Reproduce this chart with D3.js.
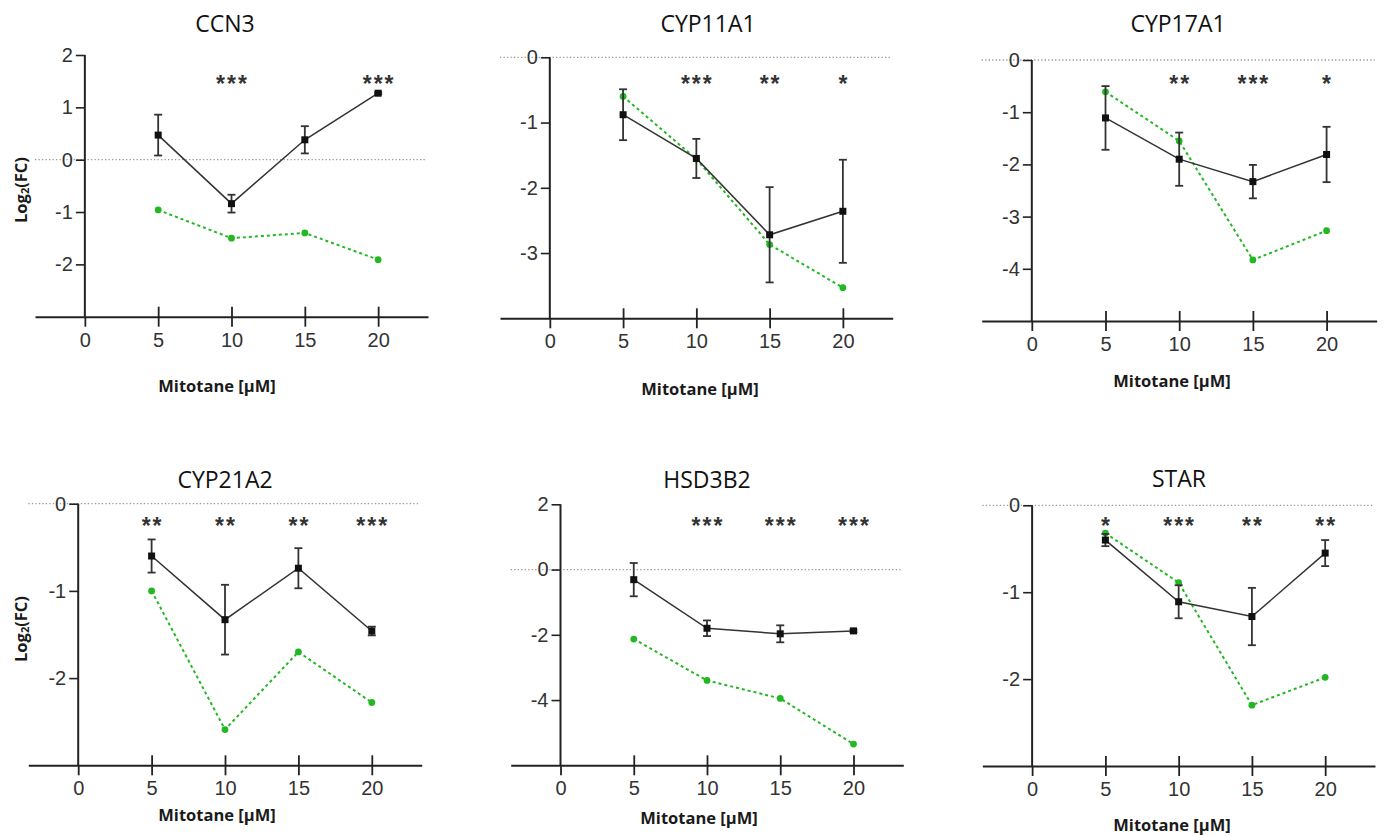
<!DOCTYPE html>
<html lang="en">
<head>
  <meta charset="UTF-8" />
  <title>Mitotane gene expression</title>
  <style>
    body { margin:0; background:#fff; }
    svg { display:block; }
    .tick text { font-family:"Liberation Sans", Arial, sans-serif; font-size:20px; fill:#333; }
    .title { font-family:"Open Sans", sans-serif; font-size:23px; fill:#111; }
    .axlab { font-family:"Open Sans", sans-serif; font-size:16.5px; font-weight:700; fill:#1a1a1a; }
    .stars { font-family:"Liberation Sans", Arial, sans-serif; font-size:23px; font-weight:700; fill:#333; letter-spacing:2px; }
  </style>
</head>
<body>
<svg id="chart" width="1385" height="836"></svg>
<script src="https://cdnjs.cloudflare.com/ajax/libs/d3/7.8.5/d3.min.js"></script>
<script>
// --- data ---
const genes = ["CCN3", "CYP11A1", "CYP17A1", "CYP21A2", "HSD3B2", "STAR"];
const doses = [5, 10, 15, 20];
const xTicks = [0, 5, 10, 15, 20];
const yDomains = [[-3, 2], [-4, 0], [-5, 0], [-3, 0], [-6, 2], [-3, 0]];
const yTicks = [[-2, -1, 0, 1, 2], [-3, -2, -1, 0], [-4, -3, -2, -1, 0], [-2, -1, 0], [-4, -2, 0, 2], [-2, -1, 0]];
// black squares: mean log2(FC) and error
const meanFC = [
  [0.47, -0.84, 0.38, 1.27],
  [-0.88, -1.55, -2.72, -2.36],
  [-1.11, -1.90, -2.33, -1.81],
  [-0.60, -1.33, -0.74, -1.46],
  [-0.31, -1.80, -1.97, -1.88],
  [-0.40, -1.11, -1.28, -0.55]
];
const errFC = [
  [0.39, 0.17, 0.26, 0.02],
  [0.39, 0.30, 0.73, 0.79],
  [0.61, 0.51, 0.32, 0.53],
  [0.19, 0.40, 0.23, 0.05],
  [0.51, 0.24, 0.26, 0.04],
  [0.07, 0.19, 0.33, 0.15]
];
// green dotted series
const greenFC = [
  [-0.96, -1.50, -1.40, -1.91],
  [-0.60, -1.56, -2.87, -3.53],
  [-0.61, -1.55, -3.83, -3.27],
  [-1.00, -2.59, -1.70, -2.28],
  [-2.13, -3.40, -3.95, -5.35],
  [-0.32, -0.89, -2.30, -1.98]
];
const stars = [
  ["", "***", "", "***"],
  ["", "***", "**", "*"],
  ["", "**", "***", "*"],
  ["**", "**", "**", "***"],
  ["", "***", "***", "***"],
  ["*", "***", "**", "**"]
];

// --- panel layout (pixels) ---
const panels = [
  {x0:35,    x1:428,    top:55,    bot:316.7, titleX:225,  titleY:23,  starY:79,  xlabX:217,  xlabY:385, ylab:true},
  {x0:500,   x1:892.7,  top:57.3,  bot:318.3, titleX:708,  titleY:23,  starY:79,  xlabX:700,  xlabY:388, ylab:false},
  {x0:981.7, x1:1376.7, top:60,    bot:321,   titleX:1178, titleY:23,  starY:79,  xlabX:1172, xlabY:380, ylab:false},
  {x0:28.3,  x1:421.7,  top:503.7, bot:765.3, titleX:225,  titleY:479, starY:521, xlabX:217,  xlabY:814, ylab:true},
  {x0:510.7, x1:903.3,  top:504.3, bot:765.3, titleX:707,  titleY:479, starY:521, xlabX:699,  xlabY:817, ylab:false},
  {x0:982.3, x1:1375,   top:505.3, bot:766,   titleX:1179, titleY:478, starY:521, xlabX:1172, xlabY:824, ylab:false}
];

const svg = d3.select("#chart");
const green = "#22b822", dark = "#333";

genes.forEach((gene, gi) => {
  const p = panels[gi];
  const x = d3.scaleLinear().domain([-3.4, 23.4]).range([p.x0, p.x1]);
  const y = d3.scaleLinear().domain(yDomains[gi]).range([p.bot, p.top]);
  const g = svg.append("g");

  // zero reference line
  g.append("line")
    .attr("x1", p.x0).attr("x2", p.x1 - 2)
    .attr("y1", y(0)).attr("y2", y(0))
    .attr("stroke", "#999").attr("stroke-width", 1.3)
    .attr("stroke-dasharray", "1.3,2.2");

  // y axis
  const gy = g.append("g").attr("transform", `translate(${x(0)},0)`)
    .call(d3.axisLeft(y).tickValues(yTicks[gi]).tickFormat(d3.format("d"))
      .tickSize(9).tickPadding(3).tickSizeOuter(0));
  gy.select(".domain").attr("stroke", "#222").attr("stroke-width", 2)
    .attr("d", `M0,${y(yDomains[gi][1])}V${p.bot}`);
  gy.selectAll(".tick line").attr("stroke", "#222").attr("stroke-width", 1.6);
  gy.selectAll(".tick text").text(d => d < 0 ? "-" + Math.abs(d) : d);

  // x axis
  const gx = g.append("g").attr("transform", `translate(0,${p.bot})`)
    .call(d3.axisBottom(x).tickValues(xTicks).tickSize(10).tickSizeOuter(0));
  gx.select(".domain").attr("stroke", "#222").attr("stroke-width", 2);
  gx.selectAll(".tick line").attr("stroke", "#222").attr("stroke-width", 1.8)
    .attr("y1", d => d === 0 ? 0 : -10);
  gx.selectAll(".tick text").attr("y", 16);

  // title
  g.append("text").attr("class", "title")
    .attr("x", p.titleX).attr("y", p.titleY)
    .attr("text-anchor", "middle").attr("dominant-baseline", "central")
    .text(gene);

  // axis labels
  g.append("text").attr("class", "axlab")
    .attr("x", p.xlabX).attr("y", p.xlabY)
    .attr("text-anchor", "middle").attr("dominant-baseline", "central")
    .text("Mitotane [µM]");
  if (p.ylab) {
    const cy = gi === 0 ? 190 : 629;
    const t = g.append("text").attr("class", "axlab")
      .attr("transform", `translate(20,${cy}) rotate(-90)`)
      .attr("text-anchor", "middle").attr("dominant-baseline", "central");
    t.append("tspan").text("Log");
    t.append("tspan").attr("font-size", "11px").attr("dy", 4).text("2");
    t.append("tspan").attr("dy", -4).text("(FC)");
  }

  // green dotted series
  const gpts = doses.map((d, i) => [d, greenFC[gi][i]]);
  g.append("path")
    .attr("d", d3.line().x(d => x(d[0])).y(d => y(d[1]))(gpts))
    .attr("fill", "none").attr("stroke", green).attr("stroke-width", 2)
    .attr("stroke-dasharray", "3,3");
  g.selectAll(".gdot").data(gpts).join("circle")
    .attr("cx", d => x(d[0])).attr("cy", d => y(d[1]))
    .attr("r", 3.4).attr("fill", green);

  // black mean series with error bars
  const bpts = doses.map((d, i) => ({dose:d, m:meanFC[gi][i], e:errFC[gi][i]}));
  g.append("path")
    .attr("d", d3.line().x(d => x(d.dose)).y(d => y(d.m))(bpts))
    .attr("fill", "none").attr("stroke", dark).attr("stroke-width", 1.5);
  const eb = g.selectAll(".eb").data(bpts).join("g");
  eb.append("line")
    .attr("x1", d => x(d.dose)).attr("x2", d => x(d.dose))
    .attr("y1", d => y(d.m + d.e)).attr("y2", d => y(d.m - d.e))
    .attr("stroke", dark).attr("stroke-width", 1.8);
  [1, -1].forEach(s => {
    eb.append("line")
      .attr("x1", d => x(d.dose) - 4).attr("x2", d => x(d.dose) + 4)
      .attr("y1", d => y(d.m + s * d.e)).attr("y2", d => y(d.m + s * d.e))
      .attr("stroke", dark).attr("stroke-width", 1.8);
  });
  eb.append("rect")
    .attr("x", d => x(d.dose) - 3.5).attr("y", d => y(d.m) - 3.5)
    .attr("width", 7).attr("height", 7).attr("fill", "#111");

  // significance stars
  g.selectAll(".stars").data(doses.map((d, i) => [d, stars[gi][i]]))
    .join("text").attr("class", "stars")
    .attr("x", d => x(d[0]) + 1).attr("y", p.starY + 13)
    .attr("text-anchor", "middle")
    .text(d => d[1]);
});
</script>
</body>
</html>
